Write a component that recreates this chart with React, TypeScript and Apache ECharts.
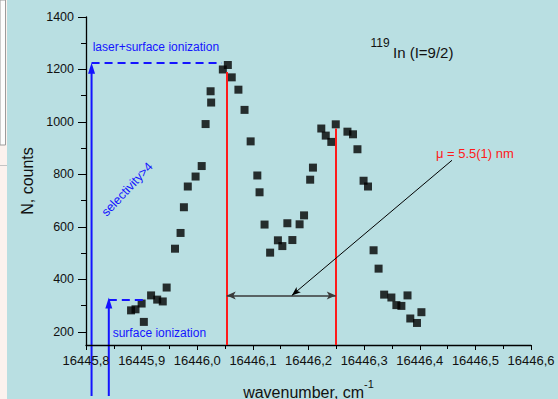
import { useEffect, useRef } from 'react';
import * as echarts from 'echarts';

// ---- data ----
const wavenumber = [
  16445.881, 16445.889, 16445.900, 16445.904, 16445.917, 16445.928, 16445.938, 16445.945,
  16445.960, 16445.970, 16445.976, 16445.983, 16445.997, 16446.008, 16446.015, 16446.024, 16446.025,
  16446.046, 16446.055, 16446.062, 16446.074, 16446.085, 16446.096, 16446.108, 16446.112,
  16446.121, 16446.131, 16446.145, 16446.153, 16446.162, 16446.171, 16446.184, 16446.192, 16446.203, 16446.208,
  16446.223, 16446.231, 16446.241, 16446.249, 16446.270, 16446.280, 16446.288, 16446.299, 16446.307,
  16446.317, 16446.326, 16446.336, 16446.349, 16446.358, 16446.367, 16446.378, 16446.383, 16446.395, 16446.403,
];
const counts = [
  282, 286, 308, 238, 339, 323, 316, 369,
  517, 577, 675, 754, 792, 832, 992, 1117, 1074,
  1200, 1217, 1170, 1123, 1046, 926, 796, 732,
  609, 502, 549, 527, 614, 550, 610, 644, 780, 826,
  975, 948, 924, 991, 963, 953, 896, 776, 754,
  511, 441, 342, 331, 302, 299, 339, 251, 234, 275,
];
const yMajorTicks = [200, 400, 600, 800, 1000, 1200, 1400];
const yMinorTicks = [300, 500, 700, 900, 1100, 1300];
const xMin = 16445.8;
const xMax = 16446.6;
const yMin = 150;
const yMax = 1400;

// annotation anchors (data coordinates)
const peakX = [16446.053, 16446.249];
const peakTop = [1190, 975];
const widthLevel = 339;
const pointerFrom = [16446.458, 854];
const pointerTo = [16446.170, 339];
const laserLevel = 1226;
const surfaceLevel = 323;
const laserArrowX = 16445.810;
const surfaceArrowX = 16445.841;
const laserDashEnd = 16446.044;
const surfaceDashEnd = 16445.909;

export default function App() {
  const ref = useRef<HTMLDivElement>(null);
  useEffect(() => {
    const chart = echarts.init(ref.current!, null, { renderer: 'svg' });
    const font = 'Arial, "Liberation Sans", sans-serif';
    const blue = '#1414ff';
    const red = '#ff1a1a';
    const ink = '#111';
    const data = wavenumber.map((x, i) => [x, counts[i]]);
    chart.setOption({
      animation: false,
      backgroundColor: '#b9dfe2',
      textStyle: { fontFamily: font },
      grid: { left: 86, right: 27, top: 17, bottom: 54, containLabel: false, outerBoundsMode: 'none' },
      xAxis: {
        type: 'value', min: xMin, max: xMax, interval: 0.1,
        axisLine: { onZero: false, lineStyle: { color: '#000', width: 1.3 } },
        axisTick: { length: 5, lineStyle: { color: '#000' } },
        minorTick: { show: true, splitNumber: 2, length: 4, lineStyle: { color: '#000' } },
        splitLine: { show: false },
        axisLabel: {
          color: ink, fontSize: 13, margin: 9,
          formatter: (v: number) => v.toFixed(1).replace('.', ','),
        },
        name: '{a|wavenumber, cm}{b|-1}',
        nameLocation: 'middle', nameGap: 33,
        nameTextStyle: {
          rich: {
            a: { fontSize: 16, color: ink, verticalAlign: 'bottom', lineHeight: 22, fontFamily: font },
            b: { fontSize: 11, color: ink, verticalAlign: 'top', fontFamily: font },
          },
        },
      },
      yAxis: [
        {
          type: 'value', min: yMin, max: yMax, position: 'left',
          axisLine: { show: true, onZero: false, lineStyle: { color: '#000', width: 1.3 } },
          axisTick: { show: true, length: 8, customValues: yMajorTicks, lineStyle: { color: '#000' } },
          axisLabel: { customValues: yMajorTicks, color: ink, fontSize: 12.5, margin: 12, formatter: (v: number) => String(v) },
          splitLine: { show: false },
          name: 'N, counts', nameLocation: 'middle', nameGap: 50,
          nameTextStyle: { fontSize: 16, color: ink },
        },
        {
          type: 'value', min: yMin, max: yMax, position: 'left',
          axisLine: { show: false },
          axisTick: { show: true, length: 5, customValues: yMinorTicks, lineStyle: { color: '#000' } },
          axisLabel: { show: false },
          splitLine: { show: false },
        },
      ],
      series: [
        {
          type: 'scatter', data, symbol: 'rect', symbolSize: 8,
          itemStyle: { color: '#000' },
          xAxisIndex: 0, yAxisIndex: 0,
          markLine: {
            silent: true, symbol: ['none', 'none'], animation: false,
            label: { show: false },
            data: [
              [{ coord: [peakX[0], peakTop[0]], lineStyle: { color: red, width: 2, type: 'solid' } }, { coord: [peakX[0], yMin] }],
              [{ coord: [peakX[1], peakTop[1]], lineStyle: { color: red, width: 2, type: 'solid' } }, { coord: [peakX[1], yMin] }],
              [
                { coord: [peakX[0], widthLevel], symbol: 'arrow', symbolSize: [6, 9], lineStyle: { color: '#3a3a3a', width: 1.6, type: 'solid' } },
                { coord: [peakX[1], widthLevel], symbol: 'arrow', symbolSize: [6, 9] },
              ],
              [
                { coord: pointerFrom, symbol: 'none', lineStyle: { color: '#000', width: 1, type: 'solid' } },
                { coord: pointerTo, symbol: 'arrow', symbolSize: [5, 9] },
              ],
              [{ coord: [laserArrowX, laserLevel], lineStyle: { color: blue, width: 2, type: [8, 5] } }, { coord: [laserDashEnd, laserLevel] }],
              [{ coord: [surfaceArrowX, surfaceLevel], lineStyle: { color: blue, width: 2, type: [8, 5] } }, { coord: [surfaceDashEnd, surfaceLevel] }],
            ],
          },
        },
      ],
    });

    const W = chart.getWidth();
    const H = chart.getHeight();
    const px = (x: number, y: number) => chart.convertToPixel({ seriesIndex: 0 }, [x, y]) as number[];
    const a1 = px(laserArrowX, laserLevel);
    const a2 = px(surfaceArrowX, surfaceLevel);
    const arrow = (p: number[], tipOffset: number) => {
      const tip = p[1] + tipOffset;
      return [
        { type: 'line', shape: { x1: p[0], y1: H - 3, x2: p[0], y2: tip + 8 }, style: { stroke: blue, lineWidth: 2 }, silent: true },
        { type: 'polygon', shape: { points: [[p[0], tip], [p[0] - 3.5, tip + 11], [p[0] + 3.5, tip + 11]] }, style: { fill: blue }, silent: true },
      ];
    };
    const tLaser = px(16445.812, 1287);
    const tSurface = px(16445.848, 197);
    const tMu = px(16446.429, 880);
    const tSel = px(16445.874, 743);
    chart.setOption({
      graphic: [
        { type: 'rect', shape: { x: 0, y: 0, width: 7, height: H }, style: { fill: '#fbf2ee' }, silent: true },
        { type: 'rect', shape: { x: 0, y: 0, width: 5.5, height: 145 }, style: { fill: '#fdfdfd', stroke: '#9c9c9c', lineWidth: 1 }, silent: true },
        { type: 'line', shape: { x1: 0, y1: 165.5, x2: 7, y2: 165.5 }, style: { stroke: '#c4c4c4', lineWidth: 1 }, silent: true },
        ...arrow(a1, 0),
        ...arrow(a2, -2),
        { type: 'text', x: tLaser[0], y: tLaser[1], style: { text: 'laser+surface ionization', fill: blue, fontSize: 12, fontFamily: font, align: 'left', verticalAlign: 'middle' }, silent: true },
        { type: 'text', x: tSurface[0], y: tSurface[1], style: { text: 'surface ionization', fill: blue, fontSize: 12, fontFamily: font, align: 'left', verticalAlign: 'middle' }, silent: true },
        { type: 'text', x: tSel[0], y: tSel[1], rotation: (47 * Math.PI) / 180, style: { text: 'selectivity>4', fill: blue, fontSize: 12.5, fontFamily: font, align: 'center', verticalAlign: 'middle' }, silent: true },
        { type: 'text', x: tMu[0], y: tMu[1], style: { text: 'μ = 5.5(1) nm', fill: red, fontSize: 13, fontFamily: font, align: 'left', verticalAlign: 'middle' }, silent: true },
        { type: 'text', x: W - 187.5, y: 43, style: { text: '119', fill: ink, fontSize: 12, fontFamily: font, align: 'left', verticalAlign: 'middle' }, silent: true },
        { type: 'text', x: W - 165, y: 52.5, style: { text: 'In (I=9/2)', fill: ink, fontSize: 15, fontFamily: font, align: 'left', verticalAlign: 'middle' }, silent: true },
      ],
    });
    return () => chart.dispose();
  }, []);
  return <div ref={ref} style={{ position: 'absolute', left: 0, top: 0, width: 558, height: 399 }} />;
}
